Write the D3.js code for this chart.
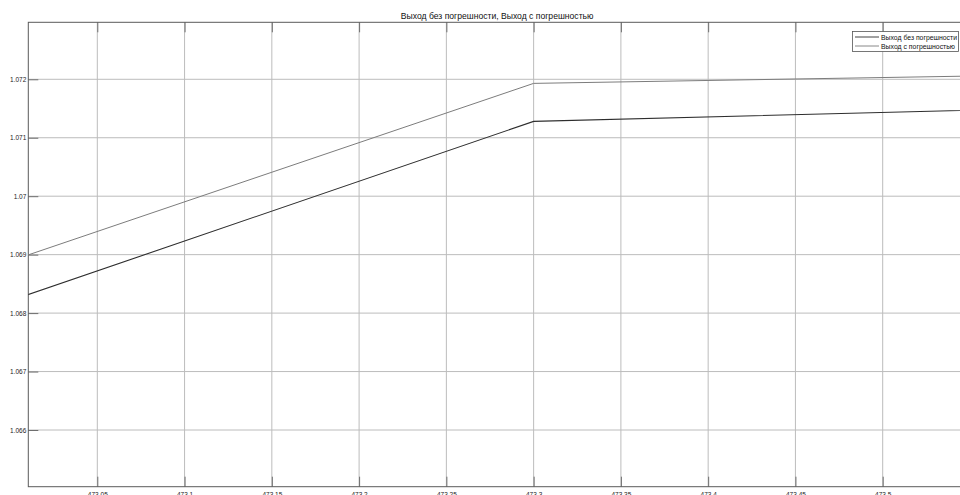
<!DOCTYPE html>
<html>
<head>
<meta charset="utf-8">
<script src="https://cdn.jsdelivr.net/npm/d3@7"></script>
<style>
  body { margin: 0; background: #fff; overflow: hidden; }
  svg { display: block; font-family: "Liberation Sans", Arial, sans-serif; }
</style>
</head>
<body>
<div id="chart"></div>
<script>
/* DATA */
const titleText = "Выход без погрешности, Выход с погрешностью";
const seriesNames = ["Выход без погрешности", "Выход с погрешностью"];
const timeValues = [473.0, 473.3, 473.6];
const outClean = [1.06821, 1.07128, 1.07151];   // dark line
const outNoisy = [1.06889, 1.07193, 1.07208];   // grey line
const xTicks = [473.05, 473.1, 473.15, 473.2, 473.25, 473.3, 473.35, 473.4, 473.45, 473.5];
const yTicks = [1.066, 1.067, 1.068, 1.069, 1.07, 1.071, 1.072];

/* CONSTANTS */
const width = 960, height = 495;
// the plot box runs a little past the right edge of the window
const margin = { top: 22.3, bottom: 8.3, left: 28.3, right: -6 };

const svg = d3.select("#chart").append("svg")
  .attr("width", width)
  .attr("height", height);

const x0 = margin.left, x1 = width - margin.right;
const y0 = margin.top, y1 = height - margin.bottom;

// 473.05 -> 97.3px, 473.5 -> 882.7px
const pxPerUnit = (882.7 - 97.3) / 0.45;
const xScale = d3.scaleLinear()
  .domain([473.05 - (97.3 - x0) / pxPerUnit, 473.5 + (x1 - 882.7) / pxPerUnit])
  .range([x0, x1]);

const yScale = d3.scaleLinear()
  .domain([1.06503, 1.072975])
  .range([y1, y0]);

svg.append("defs").append("clipPath").attr("id", "clip")
  .append("rect")
  .attr("x", x0).attr("y", y0)
  .attr("width", x1 - x0).attr("height", y1 - y0);

// grid
svg.append("g").selectAll("line")
  .data(xTicks).join("line")
  .attr("x1", d => xScale(d)).attr("x2", d => xScale(d))
  .attr("y1", y0).attr("y2", y1)
  .attr("stroke", "#bcbcbc").attr("stroke-width", 1);

svg.append("g").selectAll("line")
  .data(yTicks).join("line")
  .attr("x1", x0).attr("x2", x1)
  .attr("y1", d => yScale(d)).attr("y2", d => yScale(d))
  .attr("stroke", "#bcbcbc").attr("stroke-width", 1);

// axes, ticks pointing inward
const xAxisB = d3.axisBottom(xScale).tickValues(xTicks).tickSize(-10).tickPadding(5.5)
  .tickFormat(d3.format(""));
const xAxisT = d3.axisTop(xScale).tickValues(xTicks).tickSize(-10).tickFormat("");
const yAxisL = d3.axisLeft(yScale).tickValues(yTicks).tickSize(-10).tickPadding(2)
  .tickFormat(d3.format(""));

function styleAxis(g) {
  g.select(".domain").remove();
  g.selectAll(".tick line").attr("stroke", "#6e6e6e");
  g.selectAll("text").attr("fill", "#222").attr("font-size", 6.5);
}

svg.append("g").attr("transform", `translate(0,${y1})`).call(xAxisB).call(styleAxis);
svg.append("g").attr("transform", `translate(0,${y0})`).call(xAxisT).call(styleAxis);
svg.append("g").attr("transform", `translate(${x0},0)`).call(yAxisL).call(styleAxis);

// frame
svg.append("rect")
  .attr("x", x0).attr("y", y0)
  .attr("width", x1 - x0).attr("height", y1 - y0)
  .attr("fill", "none").attr("stroke", "#5a5a5a").attr("stroke-width", 1);

// lines
const line = d3.line()
  .x((d, i) => xScale(timeValues[i]))
  .y(d => yScale(d));

const plot = svg.append("g").attr("clip-path", "url(#clip)");
plot.append("path").datum(outNoisy)
  .attr("d", line).attr("fill", "none")
  .attr("stroke", "#7c7c7c").attr("stroke-width", 1);
plot.append("path").datum(outClean)
  .attr("d", line).attr("fill", "none")
  .attr("stroke", "#2e2e2e").attr("stroke-width", 1.1);

// title, centred over the whole plot box
svg.append("text")
  .attr("x", (x0 + x1) / 2).attr("y", 19)
  .attr("text-anchor", "middle")
  .attr("font-size", 8.6)
  .attr("fill", "#111")
  .text(titleText);

// legend
const legend = svg.append("g");
legend.append("rect")
  .attr("x", 852.5).attr("y", 31.5)
  .attr("width", 106).attr("height", 20)
  .attr("fill", "#fff").attr("stroke", "#555").attr("stroke-width", 0.8);
const legendColors = ["#2e2e2e", "#7c7c7c"];
seriesNames.forEach((name, i) => {
  const ly = 37 + i * 9;
  legend.append("line")
    .attr("x1", 855).attr("x2", 879)
    .attr("y1", ly).attr("y2", ly)
    .attr("stroke", legendColors[i]).attr("stroke-width", 0.9);
  legend.append("text")
    .attr("x", 881).attr("y", ly + 2.5)
    .attr("font-size", 7.3).attr("fill", "#111")
    .attr("textLength", i === 0 ? 76 : 74)
    .attr("lengthAdjust", "spacingAndGlyphs")
    .text(name);
});
</script>
</body>
</html>
